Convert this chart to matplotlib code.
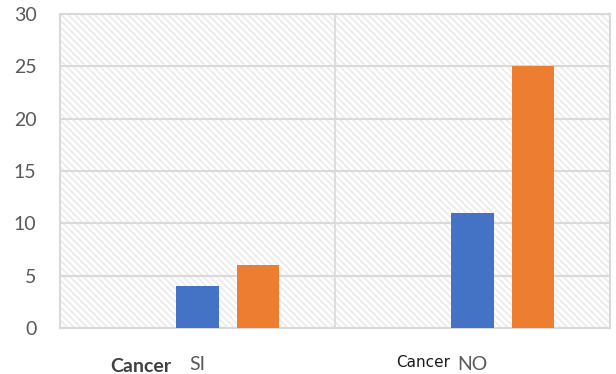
import matplotlib.pyplot as plt
from matplotlib.patches import Rectangle
import numpy as np

categories = ['SI', 'NO']
series_empty = [0, 0]
series_blue = [4, 11]
series_orange = [6, 25]
y_ticks = [0, 5, 10, 15, 20, 25, 30]

plt.rcParams['font.family'] = ['Lato', 'DejaVu Sans']
plt.rcParams['hatch.linewidth'] = 1.3

fig = plt.figure(figsize=(6.16, 3.74), dpi=100)
ax = fig.add_axes([60 / 616, 46 / 374, 550 / 616, 314 / 374])

# dotted diagonal fill behind the plot
ax.add_patch(Rectangle((0, 0), 1, 1, transform=ax.transAxes, facecolor='white',
                       edgecolor='#ececec', linewidth=0, hatch='\\\\\\\\\\', zorder=0))

x = np.arange(len(categories))
w = 0.154
off = 0.22
ax.bar(x - off, series_empty, w, color='#a5a5a5', zorder=3)
ax.bar(x, series_blue, w, color='#4472c4', zorder=3)
ax.bar(x + off, series_orange, w, color='#ed7d31', zorder=3)

ax.set_xlim(-0.5, 1.5)
ax.set_ylim(0, 30)
ax.set_yticks(y_ticks)
ax.yaxis.grid(True, color='#d9d9d9', linewidth=1.5, zorder=1)
ax.axvline(0.5, color='#d9d9d9', linewidth=1.2, zorder=1)
ax.set_axisbelow(True)
for s in ax.spines.values():
    s.set_color('#d9d9d9')
    s.set_linewidth(1.5)

ax.set_xticks(x)
ax.set_xticklabels(categories)
ax.tick_params(axis='both', length=0, labelsize=14, labelcolor='#595959')
ax.tick_params(axis='x', pad=20)
ax.tick_params(axis='y', pad=17)

fig.text(141 / 616, 1 - 372 / 374, 'Cancer', ha='center', va='baseline',
         fontsize=14, fontweight='bold', color='#404040')
fig.text(423 / 616, 1 - 367 / 374, 'Cancer', ha='center', va='baseline',
         fontsize=11, color='#1a1a1a', family=['Liberation Sans Narrow', 'DejaVu Sans'])

fig.savefig('out.png', dpi=100)
